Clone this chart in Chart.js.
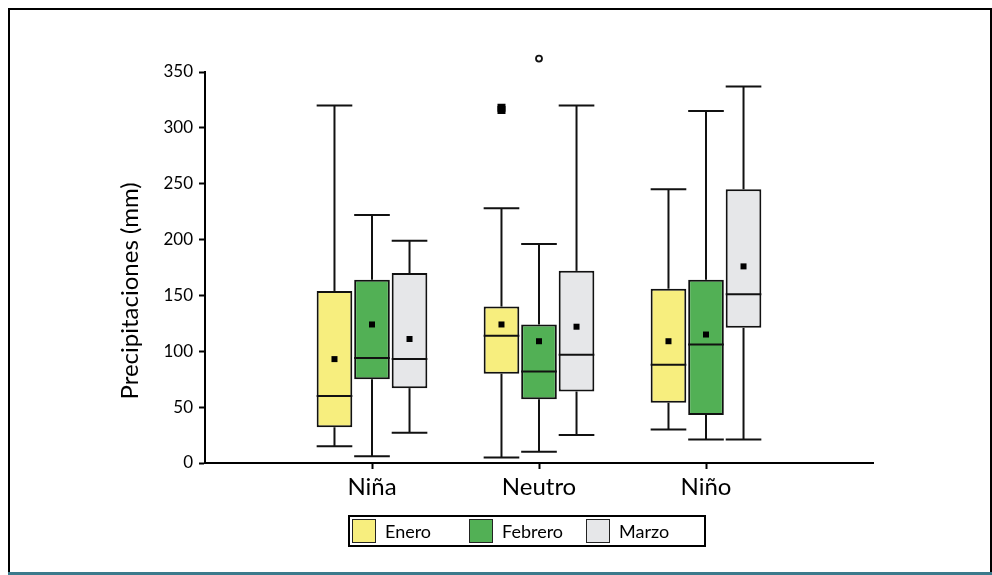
<!DOCTYPE html>
<html>
<head>
<meta charset="utf-8">
<script src="https://cdn.jsdelivr.net/npm/chart.js@4.4.1/dist/chart.umd.min.js"></script>
<style>
  html, body { margin: 0; padding: 0; background: #fff; }
  #wrap { position: relative; width: 992px; height: 575px; overflow: hidden; font-family: Lato, "DejaVu Sans", sans-serif; }
  #frame { position: absolute; left: 8px; top: 8px; width: 980px; height: 564px;
           border: 2px solid #000; border-bottom: 0; }
  #frame-bottom { position: absolute; left: 8px; top: 572px; width: 984px; height: 3px; background: #3b7a8c; }
  canvas { position: absolute; left: 0; top: 0; }
  #legend { position: absolute; left: 348px; top: 515px; width: 354px; height: 28px;
            border: 2px solid #000; display: flex; align-items: center; }
  .item { width: 117px; display: flex; align-items: center; font-size: 18px; color: #000; }
  .item:first-child { margin-left: 2px; }
  .sw { width: 22px; height: 22px; border: 1.5px solid #222; margin-right: 9px; box-sizing: content-box; }
</style>
</head>
<body>
<div id="wrap">
  <div id="frame"></div>
  <div id="frame-bottom"></div>
  <canvas id="boxChart" width="992" height="575"></canvas>
  <div id="legend"></div>
</div>
<script>
// categorías (fase ENSO)
const categories = ['Niña', 'Neutro', 'Niño'];
const months = ['Enero', 'Febrero', 'Marzo'];
const colors = ['#f7ee7e', '#52b055', '#e6e7e9'];

// resumen de cinco números por categoría: [mín, Q1, mediana, Q3, máx]
const enero   = [[15, 32, 60, 154, 320], [5, 80, 114, 140, 228], [30, 54, 88, 156, 245]];
const febrero = [[6, 75, 94, 164, 222], [10, 57, 82, 124, 196], [21, 43, 106, 164, 315]];
const marzo   = [[27, 67, 93, 170, 199], [25, 64, 97, 172, 320], [21, 121, 151, 245, 337]];

// medias
const eneroMean   = [93, 124, 109];
const febreroMean = [124, 109, 115];
const marzoMean   = [111, 122, 176];

// valores atípicos
const eneroOut   = [[], [316, 318], []];
const febreroOut = [[], [362], []];
const marzoOut   = [[], [], []];

const yTicks = [0, 50, 100, 150, 200, 250, 300, 350];
const yTitle = 'Precipitaciones (mm)';

const stats = [enero, febrero, marzo];
const means = [eneroMean, febreroMean, marzoMean];
const outs  = [eneroOut, febreroOut, marzoOut];
// los puntos atípicos de enero son cuadrados llenos, los de febrero círculos vacíos
const outStyle = ['square', 'circle', 'circle'];

// etiquetas vacías a los extremos para dejar espacio a ambos lados
const labels = ['', ...categories, ''];

const datasets = months.map((m, k) => ({
  label: m,
  data: [null, ...stats[k].map(s => [s[1], s[3]]), null],
  backgroundColor: colors[k],
  borderColor: '#111',
  borderWidth: 2,
  borderSkipped: false,
  categoryPercentage: 0.674,
  barPercentage: 0.95
}));

// bigotes, mediana, media y atípicos
const boxPlugin = {
  id: 'boxExtras',
  afterDatasetsDraw(chart) {
    const ctx = chart.ctx;
    const y = chart.scales.y;
    ctx.save();
    ctx.strokeStyle = '#111';
    ctx.fillStyle = '#000';
    ctx.lineWidth = 2;
    chart.data.datasets.forEach((ds, k) => {
      const meta = chart.getDatasetMeta(k);
      meta.data.forEach((el, i) => {
        const s = stats[k][i - 1];
        if (!s) return;
        const x = el.x;
        const half = el.width / 2;
        const line = (x1, y1, x2, y2) => {
          ctx.beginPath(); ctx.moveTo(x1, y1); ctx.lineTo(x2, y2); ctx.stroke();
        };
        // bigotes
        line(x, y.getPixelForValue(s[3]), x, y.getPixelForValue(s[4]));
        line(x, y.getPixelForValue(s[1]), x, y.getPixelForValue(s[0]));
        line(x - half, y.getPixelForValue(s[4]), x + half, y.getPixelForValue(s[4]));
        line(x - half, y.getPixelForValue(s[0]), x + half, y.getPixelForValue(s[0]));
        // mediana
        line(x - half, y.getPixelForValue(s[2]), x + half, y.getPixelForValue(s[2]));
        // media
        const my = y.getPixelForValue(means[k][i - 1]);
        ctx.fillRect(x - 3, my - 3, 6, 6);
        // atípicos
        outs[k][i - 1].forEach(v => {
          const oy = y.getPixelForValue(v);
          if (outStyle[k] === 'square') {
            ctx.fillRect(x - 4, oy - 4, 8, 8);
          } else {
            ctx.beginPath();
            ctx.arc(x, oy, 3, 0, Math.PI * 2);
            ctx.lineWidth = 1.8;
            ctx.stroke();
            ctx.lineWidth = 2;
          }
        });
      });
    });
    ctx.restore();
  }
};

// título del eje Y, centrado un poco por debajo del centro del área
const yTitlePlugin = {
  id: 'yTitle',
  afterDraw(chart) {
    const ctx = chart.ctx;
    const y = chart.scales.y;
    ctx.save();
    ctx.translate(130, y.getPixelForValue(154));
    ctx.rotate(-Math.PI / 2);
    ctx.font = '24px Lato';
    ctx.fillStyle = '#000';
    ctx.textAlign = 'center';
    ctx.textBaseline = 'middle';
    ctx.fillText(yTitle, 0, 0);
    ctx.restore();
  }
};

const chart = new Chart(document.getElementById('boxChart'), {
  type: 'bar',
  data: { labels: labels, datasets: datasets },
  options: {
    responsive: false,
    animation: false,
    layout: { padding: { left: 116, right: 119, top: 72, bottom: 72 } },
    plugins: { legend: { display: false }, tooltip: { enabled: false } },
    scales: {
      x: {
        offset: false,
        afterFit: s => { s.height = 40; },
        border: { color: '#000', width: 2 },
        grid: {
          offset: false,
          drawOnChartArea: false,
          tickLength: 6,
          tickWidth: 2,
          tickColor: c => (c.index === 0 || c.index === labels.length - 1) ? 'rgba(0,0,0,0)' : '#000'
        },
        ticks: { color: '#000', padding: 4, font: { family: 'Lato', size: 24 } }
      },
      y: {
        min: 0,
        max: 350,
        afterFit: s => { s.width = 89; },
        afterBuildTicks: s => { s.ticks = yTicks.map(v => ({ value: v })); },
        border: { color: '#000', width: 2 },
        grid: { drawOnChartArea: false, tickLength: 6, tickWidth: 2, tickColor: '#000' },
        ticks: { color: '#000', padding: 6, font: { family: 'Lato', size: 17 } },
        title: { display: false }
      }
    }
  },
  plugins: [boxPlugin, yTitlePlugin]
});

// leyenda en HTML con columnas fijas
const legend = document.getElementById('legend');
months.forEach((m, k) => {
  const it = document.createElement('div');
  it.className = 'item';
  const sw = document.createElement('span');
  sw.className = 'sw';
  sw.style.background = colors[k];
  const tx = document.createElement('span');
  tx.textContent = m;
  it.appendChild(sw);
  it.appendChild(tx);
  legend.appendChild(it);
});
</script>
</body>
</html>
